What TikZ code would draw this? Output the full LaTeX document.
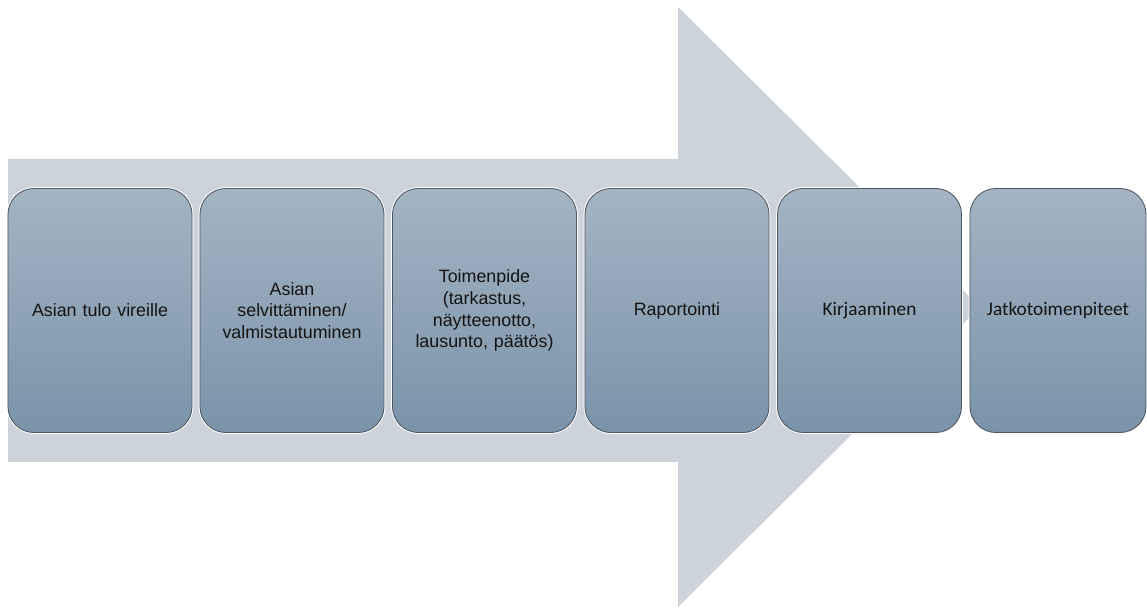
\documentclass[tikz,border=0pt]{standalone}
\usepackage{fontspec}
\setmainfont{Liberation Sans}
\newfontfamily\carlitofont{Carlito}
\usepackage{tikz}
\definecolor{arrowgrey}{RGB}{205,211,218}
\definecolor{boxtop}{RGB}{164,180,195}
\definecolor{boxbottom}{RGB}{122,147,169}
\definecolor{boxline}{RGB}{78,86,96}
\definecolor{steptext}{RGB}{20,20,20}
\tikzset{
  stepbox/.style={rectangle,rounded corners=0.65cm,minimum width=4.6cm,minimum height=6.1cm,
    top color=boxtop,bottom color=boxbottom,draw=boxline,line width=0.6pt,
    preaction={draw=white,line width=2pt},
    text=steptext,align=center,text width=4.3cm,font=\fontsize{12.7}{15.5}\selectfont},
  steplast/.style={stepbox,minimum width=4.4cm,text width=4.1cm},
  carlito/.style={font=\carlitofont\fontsize{13.7}{16}\selectfont}
}

\begin{document}
\begin{tikzpicture}[x=0.025cm,y=-0.025cm]
      \useasboundingbox (0,0) rectangle (1147,609);
      %% big process arrow behind the steps
      \fill[arrowgrey] (8,159) -- (678,159) -- (678,7) -- (980,307) -- (678,607) -- (678,462) -- (8,462) -- cycle;
      \node[stepbox] (vireille) at (100,310.5) {Asian tulo vireille};
      \node[stepbox] (selvitys) at (292,310.5) {Asian\\selvittäminen/\\valmistautuminen};
      \node[stepbox] (toimenpide) at (484.5,310.5) {Toimenpide\\(tarkastus,\\näytteenotto,\\lausunto, päätös)};
      \node[stepbox] (raportointi) at (677,310.5) {Raportointi};
      \node[stepbox,carlito] (kirjaaminen) at (869.5,310.5) {Kirjaaminen};
      \node[steplast,carlito] (jatko) at (1058,310.5) {Jatkotoimenpiteet};
    \end{tikzpicture}
\end{document}
